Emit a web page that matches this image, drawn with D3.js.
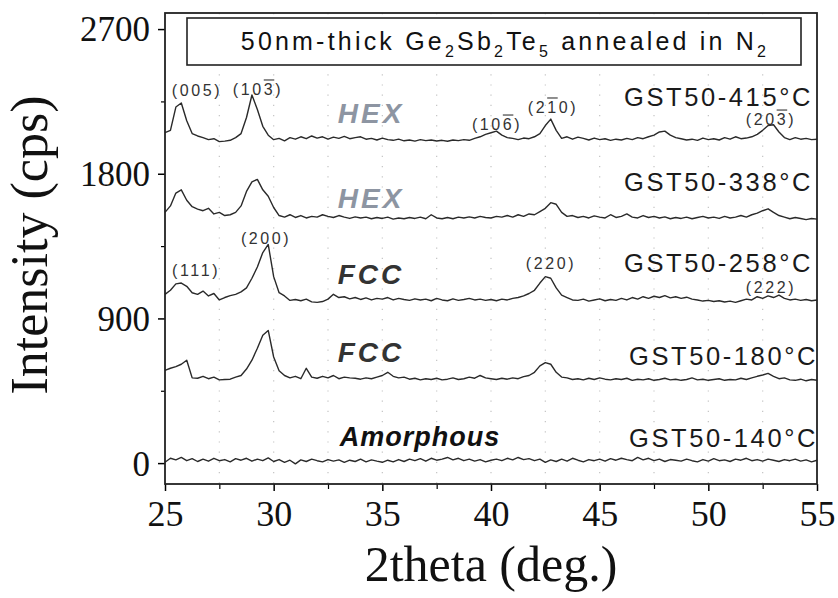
<!DOCTYPE html>
<html><head><meta charset="utf-8">
<script src="https://cdn.jsdelivr.net/npm/d3@7"></script>
<style>
html,body{margin:0;padding:0;background:#fff;}
svg{display:block;}
</style></head>
<body>
<svg id="chart" width="838" height="598"></svg>
<script>
// ---- data ----
const twoTheta = [25,25.25,25.5,25.75,26,26.25,26.5,26.75,27,27.25,27.5,27.75,28,28.25,28.5,28.75,29,29.25,29.5,29.75,
30,30.25,30.5,30.75,31,31.25,31.5,31.75,32,32.25,32.5,32.75,33,33.25,33.5,33.75,34,34.25,34.5,34.75,
35,35.25,35.5,35.75,36,36.25,36.5,36.75,37,37.25,37.5,37.75,38,38.25,38.5,38.75,39,39.25,39.5,39.75,
40,40.25,40.5,40.75,41,41.25,41.5,41.75,42,42.25,42.5,42.75,43,43.25,43.5,43.75,44,44.25,44.5,44.75,
45,45.25,45.5,45.75,46,46.25,46.5,46.75,47,47.25,47.5,47.75,48,48.25,48.5,48.75,49,49.25,49.5,49.75,
50,50.25,50.5,50.75,51,51.25,51.5,51.75,52,52.25,52.5,52.75,53,53.25,53.5,53.75,54,54.25,54.5,54.75,55];

const gst415 = [2056,2070,2215,2240,2130,2050,2035,2025,2012,2018,2000,2003,2008,2025,2050,2150,2290,2200,2095,2040,
2012,2020,2005,2025,2015,2030,2018,2035,2022,2030,2015,2028,2020,2032,2018,2025,2030,2015,2020,2010,
2022,2012,2008,2015,2005,2010,2003,2012,2006,2010,2004,2008,2002,2010,2006,2012,2008,2020,2030,2045,
2055,2065,2040,2025,2020,2012,2022,2018,2030,2050,2100,2140,2070,2020,2030,2015,2028,2020,2010,2022,
2012,2018,2008,2015,2010,2020,2012,2025,2018,2030,2040,2060,2065,2040,2025,2018,2010,2015,2008,2022,
2012,2018,2010,2025,2015,2030,2018,2022,2030,2045,2070,2100,2105,2060,2025,2012,2025,2015,2020,2012,2015];

const gst338 = [1560,1600,1680,1700,1635,1595,1580,1570,1585,1550,1560,1540,1545,1560,1600,1690,1750,1765,1700,1660,
1590,1540,1530,1545,1528,1540,1525,1535,1530,1545,1535,1528,1540,1530,1522,1532,1525,1530,1520,1528,
1522,1530,1518,1525,1520,1528,1522,1530,1520,1545,1525,1520,1528,1520,1530,1525,1532,1525,1535,1528,
1525,1535,1530,1540,1530,1545,1535,1550,1545,1565,1585,1620,1610,1560,1535,1540,1528,1535,1525,1538,
1530,1525,1545,1528,1535,1550,1530,1525,1540,1528,1535,1525,1532,1520,1528,1522,1530,1520,1528,1535,
1525,1530,1522,1535,1525,1530,1540,1530,1545,1555,1570,1582,1560,1540,1530,1520,1528,1522,1515,1522,1518];

const gst258 = [1050,1075,1115,1120,1100,1060,1050,1070,1040,1055,1015,1030,1042,1050,1065,1090,1150,1220,1310,1360,
1160,1060,1040,1012,1018,1010,1020,1003,1000,1005,1020,1050,1030,1035,1022,1030,1018,1028,1015,1025,
1020,1030,1015,1025,1018,1012,1022,1015,1020,1010,1025,1015,1010,1022,1012,1018,1025,1015,1020,1012,
1018,1010,1020,1015,1025,1030,1040,1055,1075,1120,1160,1150,1090,1045,1030,1015,1012,1020,1008,1015,
1022,1010,1018,1012,1025,1015,1030,1020,1035,1025,1038,1030,1042,1028,1035,1025,1032,1020,1015,1008,
1012,1005,1010,1002,1008,1000,1010,1020,1015,1035,1025,1040,1030,1045,1025,1015,1020,1012,1018,1010,1015];

const gst180 = [577,590,600,615,640,530,528,540,525,535,518,520,522,535,545,585,640,715,795,825,
660,575,545,530,540,525,590,535,528,540,530,545,525,535,530,528,522,530,525,535,
545,565,540,530,535,522,528,518,525,520,528,518,522,530,520,525,535,528,545,530,
525,520,528,522,530,525,538,545,565,605,625,615,565,535,530,520,525,518,528,520,
530,522,518,525,520,528,515,522,518,525,515,520,528,518,522,515,520,530,518,522,
515,520,525,515,520,518,528,520,530,540,548,558,540,525,530,518,515,522,512,520,515];

const gst140 = [5,30,20,35,15,28,10,25,12,30,15,22,8,28,18,30,12,25,15,32,
10,22,5,18,-5,20,10,25,15,8,22,12,20,5,18,10,25,8,20,12,
5,18,8,22,10,25,15,28,12,30,18,25,35,20,30,15,25,12,22,8,
18,25,15,30,20,35,22,28,15,25,5,20,10,25,12,30,18,8,22,15,
25,12,28,18,30,22,15,35,20,30,15,25,10,22,18,12,25,15,8,22,
12,28,15,20,10,25,18,30,15,22,12,25,18,10,22,15,25,12,20,8,18];

const sampleNames = ["GST50-415°C","GST50-338°C","GST50-258°C","GST50-180°C","GST50-140°C"];
const seriesList = [gst415, gst338, gst258, gst180, gst140];
const sampleLabelY = [2221, 1693, 1189, 610, 100];

const xTicks = [25,30,35,40,45,50,55];
const xMinor = [27.5,32.5,37.5,42.5,47.5,52.5];
const yTicks = [0,900,1800,2700];
const yMinor = [450,1350,2250];

// Miller-index annotations (data coordinates) and overlined character index
const millerText = ["(005)","(103)","(106)","(210)","(203)","(200)","(111)","(220)","(222)"];
const millerX    = [26.47, 29.28, 40.28, 42.85, 52.88, 29.65, 26.43, 42.76, 52.88];
const millerY    = [2284, 2290, 2072, 2178, 2103, 1363, 1164, 1207, 1058];
const millerBar  = [-1, 3, 3, 2, 3, -1, -1, -1, -1];

const phaseText = ["HEX","HEX","FCC","FCC","Amorphous"];
const phaseX    = [34.48, 34.48, 34.48, 34.48, 36.73];
const phaseY    = [2116, 1587, 1114, 629, 106];
const phaseKind = ["hex","hex","fcc","fcc","amo"];

// ---- layout ----
const svg = d3.select("#chart");
const L = 165, R = 817, T = 13, B = 484;
const x = d3.scaleLinear().domain([25,55]).range([L,R]);
const y = d3.scaleLinear().domain([-130,2800]).range([B,T]);

// grid (dotted verticals)
svg.append("g").selectAll("line").data(xMinor.concat([30,35,40,45,50])).join("line")
  .attr("x1", d=>x(d)).attr("x2", d=>x(d)).attr("y1", T).attr("y2", B)
  .attr("stroke", "#c4c4c4").attr("stroke-width", 1.2).attr("stroke-dasharray", "1.2,9");

// traces
const line = d3.line().x((d,i)=>x(twoTheta[i])).y(d=>y(d));
svg.append("g").selectAll("path").data(seriesList).join("path")
  .attr("d", d=>line(d)).attr("fill","none").attr("stroke","#2a2a2a")
  .attr("stroke-width",1.4).attr("stroke-linejoin","round");

// axes
const xAxis = d3.axisBottom(x).tickValues(xTicks).tickSize(7).tickPadding(9).tickFormat(d3.format("d"));
const gx = svg.append("g").attr("transform",`translate(0,${B})`).call(xAxis);
gx.selectAll(".tick line").attr("stroke-width",1.5);
gx.selectAll("text").attr("font-family","'Liberation Serif','Times New Roman',serif").attr("font-size",36).attr("fill","#111");
gx.select(".domain").remove();
svg.append("g").attr("transform",`translate(0,${B})`).call(d3.axisBottom(x).tickValues(xMinor).tickSize(5).tickFormat(""))
  .call(g=>g.select(".domain").remove()).selectAll("line").attr("stroke-width",1.2);

const yAxis = d3.axisLeft(y).tickValues(yTicks).tickSize(7).tickPadding(8).tickFormat(d3.format("d"));
const gy = svg.append("g").attr("transform",`translate(${L},0)`).call(yAxis);
gy.select(".domain").remove();
gy.selectAll(".tick line").attr("stroke-width",1.5);
gy.selectAll("text").attr("font-family","'Liberation Serif','Times New Roman',serif").attr("font-size",35).attr("fill","#111").attr("dy","0.34em");
svg.append("g").attr("transform",`translate(${L},0)`).call(d3.axisLeft(y).tickValues(yMinor).tickSize(4).tickFormat(""))
  .call(g=>g.select(".domain").remove()).selectAll("line").attr("stroke-width",1.2);

// frame
svg.append("rect").attr("x",L).attr("y",T).attr("width",R-L).attr("height",B-T)
  .attr("fill","none").attr("stroke","#222").attr("stroke-width",1.8);

// axis titles
svg.append("text").attr("x",491).attr("y",581).attr("text-anchor","middle")
  .attr("font-family","'Liberation Serif','Times New Roman',serif").attr("font-size",50).attr("fill","#111")
  .text("2theta (deg.)");
svg.append("text").attr("transform","translate(47,245) rotate(-90)").attr("text-anchor","middle")
  .attr("font-family","'Liberation Serif','Times New Roman',serif").attr("font-size",52).attr("fill","#111")
  .text("Intensity (cps)");

// title box
svg.append("rect").attr("x",187).attr("y",18).attr("width",614).attr("height",47)
  .attr("fill","#fff").attr("stroke","#222").attr("stroke-width",1.6);
const title = svg.append("text").attr("x",505).attr("y",50).attr("text-anchor","middle")
  .attr("font-family","'Liberation Sans',Arial,sans-serif").attr("font-size",25).attr("letter-spacing",3.2).attr("fill","#111");
const titleParts = [["50nm-thick Ge",0],["2",1],["Sb",0],["2",1],["Te",0],["5",1],[" annealed in N",0],["2",1]];
let prevSub = 0;
titleParts.forEach(([t,s])=>{
  const ts = title.append("tspan").text(t);
  if (s) ts.attr("font-size",16);
  const dy = (s?7:0) - (prevSub?7:0);
  if (dy) ts.attr("dy",dy);
  prevSub = s;
});

// sample names
const sans = "'Liberation Sans',Arial,sans-serif";
svg.append("g").selectAll("text").data(sampleNames).join("text")
  .attr("x", (d,i)=> i<3 ? 813 : 818).attr("y",(d,i)=>y(sampleLabelY[i]))
  .attr("text-anchor","end").attr("font-family",sans).attr("font-size",25.5)
  .attr("letter-spacing",2.6).attr("fill","#1a1a1a").text(d=>d);

// phase labels
svg.append("g").selectAll("text").data(phaseText).join("text")
  .attr("x",(d,i)=>x(phaseX[i])).attr("y",(d,i)=>y(phaseY[i]))
  .attr("text-anchor","middle").attr("font-family",sans).attr("font-weight","bold").attr("font-style","italic")
  .attr("font-size",(d,i)=>phaseKind[i]==="amo"?27:28)
  .attr("letter-spacing",(d,i)=>phaseKind[i]==="amo"?1:3)
  .attr("fill",(d,i)=>phaseKind[i]==="hex"?"#8d95a2":(phaseKind[i]==="fcc"?"#333":"#111"))
  .text(d=>d);

// Miller labels with overlines
const mg = svg.append("g");
millerText.forEach((t,i)=>{
  const el = mg.append("text").attr("x",x(millerX[i])).attr("y",y(millerY[i]))
    .attr("text-anchor","middle").attr("font-family",sans).attr("font-size",16)
    .attr("letter-spacing",2.6).attr("fill","#333").text(t);
  if (millerBar[i] >= 0) {
    const ext = el.node().getExtentOfChar(millerBar[i]);
    mg.append("line").attr("x1",ext.x).attr("x2",ext.x+ext.width-1)
      .attr("y1",ext.y-1).attr("y2",ext.y-1).attr("stroke","#444").attr("stroke-width",1.2);
  }
});
</script>
</body></html>
